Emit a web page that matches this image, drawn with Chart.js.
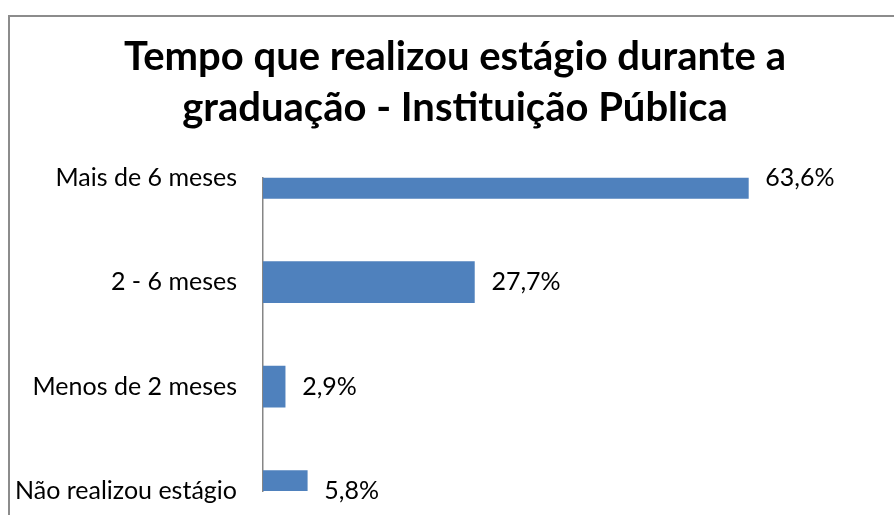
<!DOCTYPE html>
<html>
<head>
<meta charset="utf-8">
<script src="https://cdn.jsdelivr.net/npm/chart.js@4"></script>
<style>
html, body { margin: 0; padding: 0; overflow: hidden; background: #fff; }
#moldura { position: absolute; left: 8px; top: 15px; width: 1000px; height: 700px; border: 2px solid #8c8c8c; }
#grafico { position: absolute; left: 9px; top: 16px; }
</style>
</head>
<body>
<div id="moldura"></div>
<canvas id="grafico" width="892" height="560"></canvas>
<script>
// dados do grafico
const categorias = ["Mais de 6 meses", "2 - 6 meses", "Menos de 2 meses", "Não realizou estágio"];
const valores = [63.6, 27.7, 2.9, 5.8];
const titulo = ["Tempo que realizou estágio durante a", "graduação - Instituição Pública"];

//rotulos de porcentagem ao lado das barras
const rotulos = {
  id: 'rotulos',
  afterDatasetsDraw(chart) {
    const ctx = chart.ctx;
    const meta = chart.getDatasetMeta(0);
    ctx.save();
    ctx.font = '25px Lato';
    ctx.fillStyle = '#000';
    ctx.textAlign = 'left';
    ctx.textBaseline = 'middle';
    meta.data.forEach((barra, i) => {
      const texto = valores[i].toFixed(1).replace('.', ',') + '%';
      ctx.fillText(texto, barra.x + 17, barra.y);
    });
    ctx.restore();
  }
};

let context = document.querySelector("#grafico").getContext('2d')
new Chart(context, {
  type: 'bar',
  data: {
    labels: categorias,
    datasets: [{
      data: valores,
      backgroundColor: '#4F81BD',
      borderWidth: 0,
      barThickness: 41,
      clip: 0
    }]
  },
  options: {
    responsive: false,
    animation: false,
    indexAxis: 'y',
    layout: {
      padding: { top: 0, right: 0, bottom: 85, left: 0 }
    },
    plugins: {
      legend: { display: false },
      tooltip: { enabled: false },
      title: {
        display: true,
        text: titulo,
        color: '#000',
        font: { family: 'Lato', size: 40, weight: 'bold', lineHeight: 1.26 },
        padding: { top: 16, bottom: 45 }
      }
    },
    scales: {
      x: {
        display: false,
        min: 0,
        max: 83.6
      },
      y: {
        type: 'category',
        offset: false,
        grid: { display: false, drawTicks: false, tickLength: 0 },
        border: { display: true, color: '#868686', width: 1.5 },
        ticks: {
          color: '#000',
          padding: 26,
          font: { family: 'Lato', size: 25 }
        },
        afterFit(axis) { axis.width = 254; }
      }
    }
  },
  plugins: [rotulos]
});
</script>
</body>
</html>
